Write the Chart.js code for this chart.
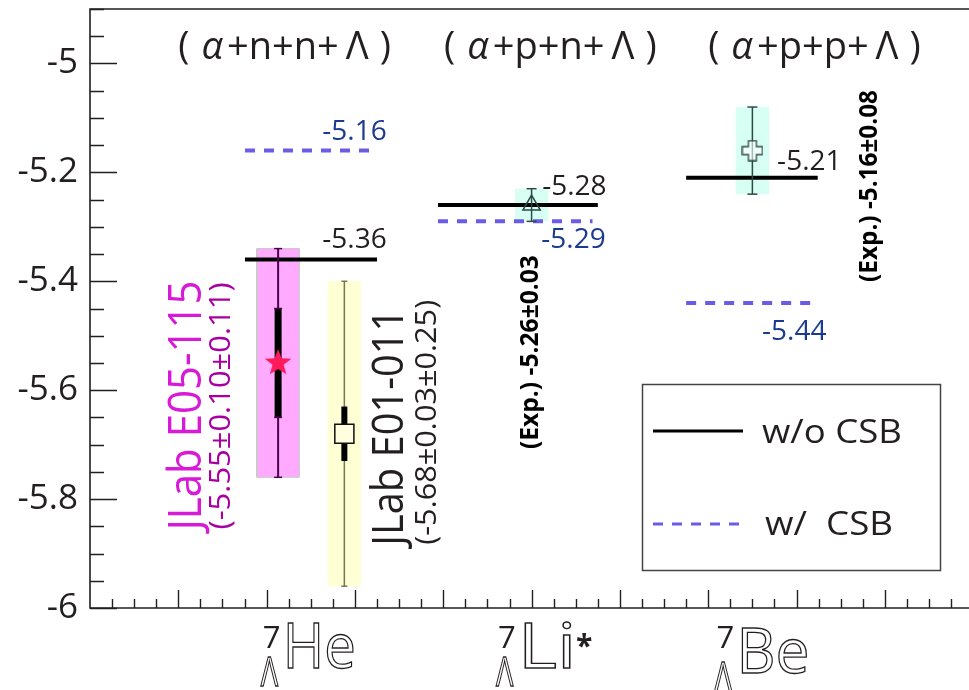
<!DOCTYPE html>
<html>
<head>
<meta charset="utf-8">
<script src="https://cdn.jsdelivr.net/npm/chart.js@4.4.1/dist/chart.umd.min.js"></script>
<style>
  body { margin: 0; background: #fff; }
  #chart { display: block; }
</style>
</head>
<body>
<canvas id="chart" width="969" height="690"></canvas>
<script>
// hypernuclei on the x axis
const elements = ['He', 'Li', 'Be'];
const elementSuffix = ['', '*', ''];
const massNumbers = ['7', '7', '7'];
const nucleusX = [2.5, 5, 7.5];
const clusterMiddle = ['+n+n+', '+p+n+', '+p+p+'];

// theory: w/o CSB (solid) and w/ CSB (dashed)
const woCSB = [-5.36, -5.26, -5.21];
const woCSBText = ['-5.36', '-5.28', '-5.21'];
const woFrom = [1.755, 3.94, 6.75];
const woTo = [3.25, 5.75, 8.24];
const wCSB = [-5.16, -5.29, -5.44];
const wCSBText = ['-5.16', '-5.29', '-5.44'];
const wFrom = [1.755, 3.94, 6.75];
const wTo = [3.19, 5.69, 8.18];

// experiments
const expX = [2.13, 2.88, 5.0, 7.5];
const expY = [-5.55, -5.68, -5.26, -5.16];
const expStat = [0.10, 0.05, null, null];
const expTotal = [0.21, 0.28, 0.03, 0.08];
const boxHalf = [0.24, 0.19, 0.19, 0.19];

// y axis
const yLabels = [-6, -5.8, -5.6, -5.4, -5.2, -5];

const solidColor = '#000000';
const dashColor = '#6a5ce6';
const blueText = '#1c3a8f';
const ink = '#231f20';
const FONT = '"Open Sans", "Liberation Sans", sans-serif';

function starImage(r, color) {
  const c = document.createElement('canvas');
  c.width = c.height = 2 * r + 2;
  const g = c.getContext('2d');
  g.translate(r + 1, r + 1);
  g.beginPath();
  for (let k = 0; k < 10; k++) {
    const rr = k % 2 ? r * 0.42 : r;
    const a = -Math.PI / 2 + k * Math.PI / 5;
    g.lineTo(rr * Math.cos(a), rr * Math.sin(a));
  }
  g.closePath();
  g.fillStyle = color;
  g.fill();
  return c;
}

function plusImage(s, arm, color) {
  const c = document.createElement('canvas');
  c.width = c.height = s + 2;
  const g = c.getContext('2d');
  g.translate(1 + s / 2, 1 + s / 2);
  const h = s / 2, a = arm / 2;
  g.beginPath();
  g.moveTo(-a, -h); g.lineTo(a, -h); g.lineTo(a, -a); g.lineTo(h, -a);
  g.lineTo(h, a); g.lineTo(a, a); g.lineTo(a, h); g.lineTo(-a, h);
  g.lineTo(-a, a); g.lineTo(-h, a); g.lineTo(-h, -a); g.lineTo(-a, -a);
  g.closePath();
  g.fillStyle = 'rgba(255,255,255,0.6)';
  g.fill();
  g.strokeStyle = color;
  g.lineWidth = 1.3;
  g.stroke();
  return c;
}

const boxFill = ['#ffaaff', '#ffffd6', 'rgba(190,255,235,0.6)', 'rgba(190,255,235,0.6)'];
const boxEdge = ['#c8c8c8', 'rgba(0,0,0,0)', 'rgba(0,0,0,0)', 'rgba(0,0,0,0)'];
const barColor = ['#4d004d', '#77774f', '#2c4a48', '#2c4a48'];
const capSize = [4, 3, 5, 5];

const datasets = [];

// shaded boxes (total uncertainty)
expX.forEach((x, i) => {
  const lo = expY[i] - expTotal[i], hi = expY[i] + expTotal[i], h = boxHalf[i];
  datasets.push({
    data: [{x: x - h, y: lo}, {x: x + h, y: lo}, {x: x + h, y: hi}, {x: x - h, y: hi}, {x: x - h, y: lo}],
    fill: 'shape',
    backgroundColor: boxFill[i],
    borderColor: boxEdge[i],
    borderWidth: 1,
    pointRadius: 0,
    order: 10
  });
});

// theory lines
elements.forEach((el, i) => {
  datasets.push({
    data: [{x: woFrom[i], y: woCSB[i]}, {x: woTo[i], y: woCSB[i]}],
    borderColor: solidColor, borderWidth: 4, pointRadius: 0, fill: false, order: 5
  });
  datasets.push({
    data: [{x: wFrom[i], y: wCSB[i]}, {x: wTo[i], y: wCSB[i]}],
    borderColor: dashColor, borderWidth: 4, borderDash: [10, 9], pointRadius: 0, fill: false, order: 5
  });
});

// error bars with caps
expX.forEach((x, i) => {
  datasets.push({
    data: [{x: x, y: expY[i] - expTotal[i]}, {x: x, y: expY[i] + expTotal[i]}],
    borderColor: barColor[i], borderWidth: i === 0 ? 2 : 1.5,
    pointStyle: 'line', pointRadius: capSize[i], pointBorderColor: barColor[i], pointBorderWidth: 1.5,
    fill: false, order: 3
  });
  if (expStat[i] !== null) {
    datasets.push({
      data: [{x: x, y: expY[i] - expStat[i]}, {x: x, y: expY[i] + expStat[i]}],
      borderColor: '#000', borderWidth: i === 0 ? 7 : 6, borderCapStyle: 'butt',
      pointStyle: 'line', pointRadius: i === 0 ? 4 : 0, pointBorderColor: barColor[i], pointBorderWidth: 1.5,
      fill: false, order: 2
    });
  }
});

// markers
const markerStyle = [
  {pointStyle: starImage(14, '#ff1a5c')},
  {pointStyle: 'rect', pointRadius: 13.5, pointBackgroundColor: '#ffffe0', pointBorderColor: '#111', pointBorderWidth: 1.5},
  {pointStyle: 'triangle', pointRadius: 10, pointBackgroundColor: 'rgba(0,0,0,0)', pointBorderColor: '#2c4a48', pointBorderWidth: 1.5},
  {pointStyle: plusImage(20, 8, '#2c4a48')}
];
expX.forEach((x, i) => {
  datasets.push(Object.assign({
    data: [{x: x, y: expY[i]}],
    showLine: false, fill: false, order: 1
  }, markerStyle[i]));
});

function rotText(ctx, text, px, py, font, color, len) {
  ctx.save();
  ctx.translate(px, py);
  ctx.rotate(-Math.PI / 2);
  ctx.font = font;
  const w = ctx.measureText(text).width;
  ctx.scale(len / w, 1);
  ctx.textAlign = 'center';
  ctx.textBaseline = 'middle';
  ctx.fillStyle = color;
  ctx.fillText(text, 0, 0);
  ctx.restore();
}

function fitText(ctx, text, px, py, font, color, len) {
  ctx.save();
  ctx.translate(px, py);
  ctx.font = font;
  const w = ctx.measureText(text).width;
  ctx.scale(len / w, 1);
  ctx.textAlign = 'left';
  ctx.textBaseline = 'middle';
  ctx.fillStyle = color;
  ctx.fillText(text, 0, 0);
  ctx.restore();
}

// text pieces with their own fonts, centred at cx
function pieceText(ctx, pieces, cx, cy, color) {
  ctx.save();
  ctx.textBaseline = 'middle';
  ctx.textAlign = 'left';
  ctx.fillStyle = color;
  let total = 0;
  pieces.forEach(p => { ctx.font = p.font; p.w = ctx.measureText(p.t).width + (p.gap || 0); total += p.w; });
  let x = cx - total / 2;
  pieces.forEach(p => { ctx.font = p.font; ctx.fillText(p.t, x + (p.gap || 0) / 2, cy); x += p.w; });
  ctx.restore();
}

const decorations = {
  id: 'decorations',
  afterDraw(chart) {
    const ctx = chart.ctx;
    const xs = chart.scales.x, ys = chart.scales.y;
    const a = chart.chartArea;
    const X = v => xs.getPixelForValue(v), Y = v => ys.getPixelForValue(v);

    // frame
    ctx.save();
    ctx.strokeStyle = ink;
    ctx.lineWidth = 1.6;
    ctx.beginPath();
    ctx.moveTo(chart.width, a.top); ctx.lineTo(a.left, a.top);
    ctx.lineTo(a.left, a.bottom); ctx.lineTo(chart.width, a.bottom);
    ctx.stroke();

    // y ticks
    ctx.lineWidth = 1.4;
    ctx.beginPath();
    for (let k = 0; k <= 22; k++) {
      const v = -6 + k * 0.05;
      const major = k % 4 === 0;
      const py = Math.round(Y(v)) + 0.5;
      ctx.moveTo(a.left, py);
      ctx.lineTo(a.left + (major ? 27 : 14), py);
    }
    // x ticks
    for (let k = 1; k <= 39; k++) {
      const v = k * 0.25;
      if (v > xs.max) break;
      const major = k % 4 === 0;
      const px = Math.round(X(v)) + 0.5;
      ctx.moveTo(px, a.bottom);
      ctx.lineTo(px, a.bottom - (major ? 18 : 9));
    }
    ctx.stroke();
    ctx.restore();

    // cluster labels on top
    const clusterX = [2.18, 5.19, 8.18];
    clusterMiddle.forEach((m, i) => {
      pieceText(ctx, [
        {t: '(', font: '38px ' + FONT, gap: 16},
        {t: '\u03B1', font: 'italic 38px ' + FONT, gap: 8},
        {t: m, font: '38px ' + FONT},
        {t: '\u039B', font: '38px ' + FONT, gap: 14},
        {t: ')', font: '38px ' + FONT, gap: 8}
      ], X(clusterX[i]), Y(-4.972), ink);
    });

    // theory values
    ctx.save();
    ctx.font = '28px ' + FONT;
    ctx.textBaseline = 'middle';
    ctx.textAlign = 'left';
    const woPos = [[2.63, -5.324], [5.12, -5.227], [7.78, -5.181]];
    const wPos = [[2.63, -5.126], [5.11, -5.324], [7.61, -5.493]];
    woCSBText.forEach((t, i) => { ctx.fillStyle = ink; ctx.fillText(t, X(woPos[i][0]), Y(woPos[i][1])); });
    wCSBText.forEach((t, i) => { ctx.fillStyle = blueText; ctx.fillText(t, X(wPos[i][0]), Y(wPos[i][1])); });
    ctx.restore();

    // rotated experiment labels
    rotText(ctx, 'JLab E05-115', X(1.11), Y(-5.628), '46px ' + FONT, '#d81ad8', 250);
    rotText(ctx, '(-5.55\u00B10.10\u00B10.11)', X(1.495), Y(-5.629), '29px ' + FONT, '#a800a0', 247);
    rotText(ctx, 'JLab E01-011', X(3.40), Y(-5.668), '44px ' + FONT, ink, 237);
    rotText(ctx, '(-5.68\u00B10.03\u00B10.25)', X(3.82), Y(-5.659), '29px ' + FONT, ink, 245);
    rotText(ctx, '(Exp.) -5.26\u00B10.03', X(4.995), Y(-5.53), 'bold 25px ' + FONT, '#000', 194);
    rotText(ctx, '(Exp.) -5.16\u00B10.08', X(8.83), Y(-5.225), 'bold 25px ' + FONT, '#000', 192);

    // legend
    ctx.save();
    ctx.strokeStyle = '#444';
    ctx.lineWidth = 1.5;
    ctx.strokeRect(642.5, 384.5, 298, 186);
    ctx.lineWidth = 3;
    ctx.strokeStyle = solidColor;
    ctx.beginPath(); ctx.moveTo(653, 431); ctx.lineTo(743, 431); ctx.stroke();
    ctx.strokeStyle = dashColor;
    ctx.setLineDash([10, 9]);
    ctx.beginPath(); ctx.moveTo(653, 524); ctx.lineTo(745, 524); ctx.stroke();
    ctx.setLineDash([]);
    ctx.restore();
    fitText(ctx, 'w/o CSB', 762, 434, '32px ' + FONT, ink, 140);
    fitText(ctx, 'w/  CSB', 765, 526, '32px ' + FONT, ink, 128);

    // nucleus labels under the axis
    const shift = [-49, -34.5, -37];
    const drop = [0, 0, 5];
    elements.forEach((el, i) => {
      const bx = X(nucleusX[i]) + shift[i];
      ctx.save();
      ctx.fillStyle = ink;
      ctx.strokeStyle = ink;
      ctx.textBaseline = 'alphabetic';
      ctx.textAlign = 'left';
      ctx.font = '31px ' + FONT;
      ctx.fillText(massNumbers[i], bx + 1, 648);
      // Lambda subscript
      ctx.save();
      ctx.translate(bx - 1, 686 + drop[i]);
      ctx.scale(0.72, 1);
      ctx.font = '40px ' + FONT;
      ctx.lineWidth = 1.3;
      ctx.strokeText('\u039B', 0, 0);
      ctx.restore();
      // element
      ctx.save();
      ctx.translate(bx + 21, 668 + drop[i]);
      ctx.font = '62px ' + FONT;
      const w = ctx.measureText(el).width;
      const sx = (el === 'Li' ? 58 : 73) / w;
      ctx.scale(sx, 1);
      ctx.lineWidth = 1.3;
      ctx.strokeText(el, 0, 0);
      ctx.restore();
      if (elementSuffix[i]) {
        ctx.font = 'bold 30px ' + FONT;
        ctx.fillText(elementSuffix[i], bx + 21 + 58, 656);
      }
      ctx.restore();
    });
  }
};

new Chart(document.getElementById('chart'), {
  type: 'line',
  data: { datasets: datasets },
  options: {
    responsive: false,
    animation: false,
    events: [],
    layout: { autoPadding: false, padding: { top: 9, right: 2, left: 0, bottom: 0 } },
    plugins: { legend: { display: false }, tooltip: { enabled: false } },
    scales: {
      x: {
        type: 'linear', min: 0, max: 9.93,
        ticks: { display: false },
        grid: { display: false, drawTicks: false },
        border: { display: false },
        afterFit: s => { s.height = 82; s.paddingLeft = 0; s.paddingRight = 0; }
      },
      y: {
        type: 'linear', min: -6, max: -4.9,
        afterBuildTicks: s => { s.ticks = yLabels.map(v => ({ value: v })); },
        ticks: {
          callback: v => String(Math.round(v * 10) / 10),
          font: { family: FONT, size: 35 },
          color: ink,
          padding: 12
        },
        grid: { display: false, drawTicks: false },
        border: { display: false },
        afterFit: s => { s.width = 90; s.paddingTop = 0; s.paddingBottom = 0; }
      }
    }
  },
  plugins: [decorations]
});
</script>
</body>
</html>
